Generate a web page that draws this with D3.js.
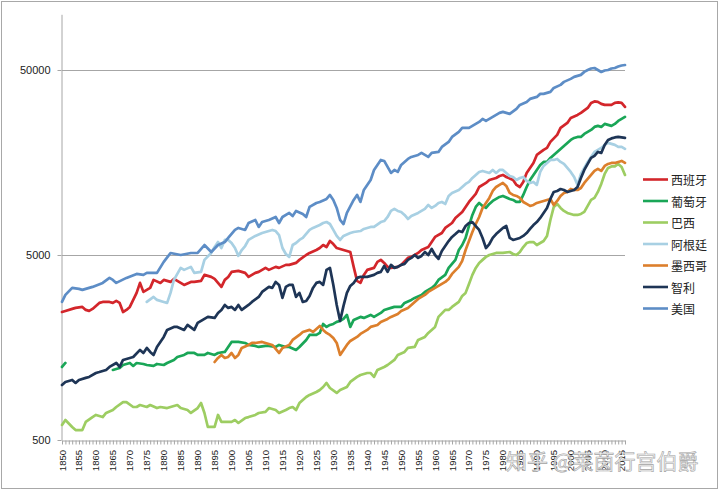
<!DOCTYPE html>
<html><head><meta charset="utf-8">
<script src="https://cdn.jsdelivr.net/npm/d3@7"></script>
<style>html,body{margin:0;padding:0;background:#fff;} svg{display:block;}</style>
</head><body><svg id="c" width="720" height="491"></svg>
<script>
// ---- data: [year, GDP per capita] ----
const spain = [[1850,2460],[1851,2493],[1853,2556],[1854,2588],[1856,2620],[1857,2524],[1858,2493],[1859,2556],[1861,2754],[1862,2788],[1864,2788],[1865,2754],[1866,2823],[1867,2754],[1868,2460],[1869,2524],[1870,2620],[1872,3120],[1873,3533],[1874,3159],[1876,3320],[1877,3668],[1879,3533],[1880,3668],[1882,3577],[1883,3714],[1885,3533],[1886,3446],[1888,3577],[1889,3577],[1891,3622],[1892,3903],[1894,3807],[1895,3714],[1897,3361],[1898,3668],[1899,3807],[1900,4051],[1902,4102],[1904,4001],[1905,3807],[1907,4001],[1908,4051],[1910,4259],[1911,4154],[1913,4312],[1914,4259],[1916,4421],[1917,4421],[1919,4532],[1920,4705],[1922,5000],[1923,5130],[1925,5320],[1926,5454],[1927,5660],[1928,5522],[1929,5950],[1930,5730],[1931,5454],[1932,5390],[1934,5260],[1935,5190],[1936,4312],[1937,3622],[1938,3533],[1939,3903],[1940,4154],[1942,4259],[1943,4590],[1944,4705],[1945,4532],[1946,4312],[1947,4259],[1949,4312],[1950,4421],[1952,4824],[1953,4884],[1955,5130],[1956,5320],[1958,5522],[1959,5875],[1960,6259],[1962,6572],[1963,7002],[1965,7443],[1966,7925],[1968,8543],[1969,9093],[1970,9674],[1971,10170],[1972,10692],[1973,11657],[1975,12261],[1976,12720],[1978,13040],[1979,13370],[1980,13540],[1981,13204],[1983,12720],[1984,11960],[1985,11657],[1986,12415],[1987,13881],[1989,15726],[1990,17370],[1992,18490],[1993,18956],[1994,20428],[1996,22290],[1997,24320],[1999,25876],[2000,27537],[2002,28590],[2003,29310],[2005,31197],[2006,33196],[2007,33820],[2008,33610],[2009,32785],[2010,32380],[2012,32380],[2013,33196],[2014,33400],[2015,33196],[2016,31586]];
const portugal = [[1850,1241],[1851,1304],[1852,null],[1865,1196],[1867,1226],[1868,1272],[1870,1304],[1871,1257],[1872,1304],[1874,1288],[1875,1272],[1877,1257],[1878,1288],[1880,1272],[1881,1304],[1883,1354],[1884,1405],[1886,1441],[1887,1477],[1889,1477],[1890,1441],[1892,1441],[1893,1477],[1895,1441],[1896,1477],[1898,1496],[1899,1592],[1900,1694],[1902,1694],[1904,1673],[1905,1632],[1907,1612],[1908,1592],[1910,1612],[1911,1612],[1913,1592],[1914,1632],[1916,1592],[1917,1592],[1919,1534],[1920,1592],[1922,1737],[1923,1849],[1925,1849],[1926,1896],[1927,2120],[1928,2043],[1929,2094],[1930,2120],[1931,2174],[1932,2201],[1933,2257],[1934,2372],[1935,2043],[1936,2229],[1938,2314],[1939,2285],[1941,2372],[1942,2314],[1944,2432],[1945,2524],[1947,2588],[1948,2620],[1950,2620],[1951,2754],[1953,2859],[1954,2931],[1956,3043],[1957,3159],[1959,3320],[1960,3446],[1961,3668],[1963,3903],[1964,4259],[1966,4705],[1967,5320],[1968,5660],[1969,6182],[1970,7179],[1971,8230],[1972,9093],[1973,9555],[1974,9208],[1975,8981],[1976,9437],[1977,9796],[1979,10297],[1980,10427],[1982,10044],[1983,9920],[1984,9674],[1985,9674],[1986,10560],[1987,11657],[1988,12720],[1989,13540],[1990,14410],[1991,15340],[1992,15923],[1993,15923],[1994,16731],[1995,17370],[1996,18030],[1997,18721],[1998,19435],[1999,20176],[2000,20940],[2001,21467],[2002,21736],[2003,21736],[2004,22569],[2005,23137],[2006,23720],[2007,24621],[2008,24932],[2009,24621],[2010,25556],[2011,25240],[2012,24932],[2013,25556],[2014,26530],[2015,27196],[2016,27881]];
const brazil = [[1850,603],[1851,641],[1853,588],[1854,566],[1856,566],[1857,626],[1859,665],[1860,683],[1862,665],[1863,700],[1865,726],[1866,754],[1868,802],[1869,802],[1871,754],[1872,754],[1873,773],[1875,754],[1876,773],[1878,744],[1879,754],[1881,744],[1882,754],[1884,773],[1885,744],[1887,726],[1888,700],[1890,744],[1891,792],[1892,700],[1893,588],[1895,588],[1896,683],[1897,626],[1898,626],[1900,626],[1901,641],[1902,618],[1904,657],[1905,665],[1907,683],[1908,700],[1910,709],[1911,744],[1913,726],[1914,700],[1916,726],[1917,744],[1918,754],[1919,726],[1920,792],[1922,854],[1923,876],[1925,909],[1926,932],[1927,967],[1928,1017],[1929,955],[1931,898],[1932,932],[1934,967],[1935,1030],[1937,1096],[1938,1123],[1940,1151],[1941,1151],[1942,1096],[1943,1196],[1945,1241],[1946,1272],[1948,1354],[1949,1441],[1951,1496],[1952,1573],[1954,1592],[1955,1737],[1957,1803],[1958,1896],[1960,2043],[1961,2314],[1963,2524],[1964,2524],[1965,2620],[1967,2788],[1968,3005],[1969,3120],[1970,3489],[1971,3903],[1972,4259],[1973,4532],[1974,4705],[1975,4884],[1976,5000],[1977,5063],[1978,5130],[1980,5130],[1982,5190],[1983,5063],[1984,5000],[1985,5190],[1986,5522],[1987,5803],[1988,5875],[1989,5875],[1990,5660],[1991,5803],[1992,5949],[1993,6338],[1994,7730],[1995,9093],[1996,9437],[1997,8981],[1998,8652],[1999,8437],[2000,8333],[2001,8230],[2002,8230],[2003,8333],[2004,8543],[2005,9208],[2006,9920],[2007,10170],[2008,10961],[2009,12110],[2010,13709],[2011,14773],[2012,15051],[2013,15051],[2014,15532],[2015,14958],[2016,13540]];
const argentina = [[1875,2788],[1877,2968],[1878,2859],[1880,2788],[1881,2754],[1882,3120],[1883,3668],[1885,4259],[1886,4154],[1888,4312],[1889,4001],[1891,4051],[1892,4705],[1894,5130],[1895,5522],[1896,5875],[1897,5454],[1898,6030],[1899,6030],[1900,5803],[1901,5454],[1902,4945],[1903,5320],[1904,5592],[1905,6030],[1907,6338],[1909,6572],[1910,6654],[1912,6830],[1913,6738],[1914,6410],[1915,5454],[1916,5063],[1917,4884],[1918,5660],[1919,5803],[1920,6030],[1921,6182],[1923,6830],[1924,7002],[1926,7260],[1927,7443],[1928,7536],[1929,7351],[1930,6830],[1931,6338],[1932,6030],[1933,6338],[1935,6572],[1936,6654],[1938,6738],[1939,6915],[1941,7090],[1942,7090],[1944,7536],[1945,7630],[1946,8024],[1947,8652],[1948,8870],[1949,8652],[1950,8543],[1951,8230],[1952,7827],[1953,8125],[1955,8437],[1956,8652],[1957,8870],[1958,9320],[1959,8981],[1960,9208],[1961,9555],[1962,9674],[1963,9437],[1964,10427],[1965,10826],[1967,11230],[1968,11657],[1969,12110],[1970,12415],[1971,13040],[1972,13540],[1973,14055],[1974,14230],[1975,14055],[1976,13881],[1977,14410],[1978,13881],[1979,14410],[1980,14410],[1981,13881],[1982,13370],[1983,13204],[1984,12720],[1985,13040],[1986,13204],[1987,12560],[1988,12261],[1989,12415],[1990,11960],[1991,14055],[1992,15148],[1993,15726],[1994,16320],[1995,16320],[1996,16524],[1997,15923],[1998,15532],[1999,14773],[2000,14055],[2001,13204],[2002,11960],[2003,13709],[2004,14773],[2005,15923],[2006,16940],[2007,18030],[2008,18490],[2009,18956],[2010,19680],[2011,20176],[2012,19926],[2013,19680],[2014,19193],[2015,19193],[2016,18721]];
const mexico = [[1895,1320],[1896,1388],[1897,1441],[1898,1388],[1899,1405],[1900,1477],[1901,1388],[1902,1441],[1903,1573],[1905,1632],[1906,1673],[1907,1673],[1909,1694],[1910,1673],[1912,1632],[1913,1553],[1914,1477],[1915,1573],[1917,1632],[1918,1737],[1920,1849],[1921,1919],[1923,1968],[1924,1919],[1926,2069],[1927,1968],[1928,1896],[1929,1849],[1930,1781],[1931,1673],[1932,1441],[1933,1534],[1934,1632],[1935,1715],[1937,1803],[1938,1872],[1940,1968],[1941,2043],[1943,2094],[1944,2174],[1946,2257],[1947,2314],[1949,2402],[1950,2493],[1952,2588],[1953,2686],[1954,2788],[1955,2895],[1957,3043],[1958,3159],[1960,3320],[1961,3404],[1963,3577],[1964,3714],[1965,3952],[1967,4312],[1968,4647],[1969,5320],[1970,5949],[1971,6654],[1972,7351],[1973,8024],[1974,8981],[1975,9555],[1976,10170],[1977,11091],[1978,11657],[1979,11960],[1980,12261],[1981,11811],[1982,10826],[1983,10560],[1984,10427],[1985,10170],[1986,9674],[1987,9437],[1988,9208],[1989,9320],[1990,9555],[1991,9674],[1992,9796],[1993,9920],[1994,10044],[1995,9320],[1996,9796],[1997,10427],[1998,10826],[1999,10961],[2000,11371],[2001,11230],[2002,11230],[2003,11511],[2004,12261],[2005,12879],[2006,13540],[2007,14230],[2008,14590],[2009,14230],[2010,15148],[2011,15532],[2012,15726],[2013,15726],[2014,15923],[2015,16123],[2016,15726]];
const chile = [[1850,992],[1851,1030],[1853,1056],[1854,1017],[1855,1056],[1857,1083],[1858,1096],[1860,1151],[1861,1165],[1863,1196],[1864,1241],[1866,1304],[1867,1241],[1868,1354],[1870,1388],[1871,1405],[1873,1534],[1874,1477],[1875,1573],[1876,1496],[1877,1441],[1878,1592],[1880,1803],[1881,1968],[1883,2043],[1884,2043],[1886,1968],[1887,2094],[1889,1968],[1890,2147],[1892,2257],[1893,2314],[1895,2285],[1896,2432],[1897,2524],[1898,2686],[1899,2588],[1900,2620],[1901,2524],[1902,2686],[1903,2524],[1905,2686],[1906,2788],[1908,2968],[1909,3159],[1911,3361],[1912,3320],[1913,3577],[1914,3446],[1915,2931],[1916,3361],[1917,3446],[1918,3446],[1919,2968],[1920,3120],[1921,2788],[1922,2823],[1923,3005],[1924,3320],[1925,3533],[1926,3577],[1927,3446],[1928,4154],[1929,4259],[1930,3446],[1931,2686],[1932,2201],[1933,2653],[1934,3120],[1935,3404],[1936,3533],[1937,3760],[1938,3807],[1940,3807],[1942,3903],[1943,4001],[1944,4051],[1945,4367],[1946,4051],[1947,4421],[1948,4259],[1949,4312],[1950,4421],[1951,4476],[1952,4705],[1953,4824],[1954,5000],[1955,4824],[1956,4938],[1957,5190],[1958,5000],[1959,5387],[1960,5000],[1961,4764],[1962,5254],[1963,5590],[1964,5949],[1965,6259],[1966,6490],[1967,6745],[1968,6654],[1969,7170],[1970,7443],[1971,7536],[1972,7170],[1973,6830],[1974,6182],[1975,5454],[1976,5731],[1977,6182],[1978,6490],[1979,6745],[1980,7002],[1981,7170],[1982,6182],[1983,6030],[1984,6105],[1985,6182],[1986,6338],[1987,6572],[1988,6915],[1989,7260],[1990,7536],[1991,7925],[1992,8437],[1993,8981],[1994,10044],[1995,10961],[1996,11091],[1997,11371],[1998,11230],[1999,10961],[2000,11091],[2001,11230],[2002,11657],[2003,13040],[2004,14410],[2005,15532],[2006,16731],[2007,17155],[2008,18030],[2009,17808],[2010,19680],[2011,20940],[2012,21340],[2013,21600],[2014,21736],[2015,21600],[2016,21467]];
const usa = [[1850,2790],[1851,3043],[1853,3320],[1855,3280],[1856,3238],[1858,3320],[1859,3361],[1862,3533],[1864,3760],[1865,3668],[1866,3533],[1869,3760],[1872,3952],[1874,3903],[1875,4001],[1878,4001],[1880,4589],[1882,5126],[1885,5000],[1888,5126],[1890,5126],[1892,5660],[1894,5190],[1896,5660],[1898,5875],[1899,6182],[1901,6830],[1902,7002],[1904,6830],[1905,7443],[1907,7730],[1908,7090],[1909,7536],[1911,7730],[1913,8024],[1914,7443],[1915,8024],[1917,8437],[1918,8125],[1919,8651],[1921,8333],[1922,8024],[1923,9093],[1925,9555],[1926,9674],[1928,10044],[1929,10560],[1930,9920],[1931,8981],[1932,7730],[1933,7351],[1934,8437],[1936,9920],[1937,10560],[1938,9674],[1939,11230],[1941,12720],[1942,14410],[1944,16320],[1945,16123],[1946,14958],[1947,13881],[1948,14410],[1949,14055],[1950,15340],[1951,15923],[1952,16524],[1953,16940],[1955,17370],[1956,17808],[1957,17370],[1958,16940],[1959,17808],[1961,18030],[1962,19193],[1964,20428],[1965,21736],[1967,23137],[1968,24318],[1970,24318],[1971,24932],[1973,26200],[1974,27196],[1975,26530],[1977,27880],[1979,29310],[1980,29680],[1982,28950],[1984,30810],[1985,32380],[1987,33610],[1988,34890],[1990,35770],[1991,37140],[1992,37140],[1994,38070],[1995,40010],[1997,41540],[1998,43120],[2000,44760],[2001,45890],[2003,47050],[2004,48840],[2005,50000],[2006,50940],[2007,51260],[2008,50000],[2009,48790],[2010,49690],[2011,50000],[2012,50940],[2013,51260],[2014,52200],[2015,52880],[2016,53200]];

const seriesNames = ["西班牙","葡萄牙","巴西","阿根廷","墨西哥","智利","美国"];
const seriesData = [spain, portugal, brazil, argentina, mexico, chile, usa];
const yTickValues = [500, 5000, 50000];
const xLabelYears = [1850,1855,1860,1865,1870,1875,1880,1885,1890,1895,1900,1905,1910,1915,1920,1925,1930,1935,1940,1945,1950,1955,1960,1965,1970,1975,1980,1985,1990,1995,2000,2005,2010,2015];
const firstYear = 1850, lastYear = 2016;

// ---- styles ----
const colors = ["#d3262b","#1aa657","#9dcd62","#a8d0e3","#dc7f2c","#1e3556","#5d8dc6"];
const gridColor = "#a6a6a6";

const svg = d3.select("#c");
svg.append("rect").attr("x",0).attr("y",0).attr("width",720).attr("height",491).attr("fill","#fff");
svg.append("rect").attr("x",1.5).attr("y",1.5).attr("width",716).attr("height",487)
  .attr("fill","none").attr("stroke","#a8a8a8");

const x = d3.scaleLinear().domain([firstYear, lastYear]).range([62, 625]);
const y = d3.scaleLog().domain([500, 100000]).range([440, 14.3]);

// gridlines
svg.append("g").selectAll("line").data(yTickValues.filter(v => v > 500)).join("line")
  .attr("x1", 62).attr("x2", 625)
  .attr("y1", d => Math.round(y(d)) + 0.5).attr("y2", d => Math.round(y(d)) + 0.5)
  .attr("stroke", gridColor).attr("stroke-width", 1);

// y axis
const yAxis = svg.append("g").attr("transform","translate(61.5,0)")
  .call(d3.axisLeft(y).tickValues(yTickValues).tickFormat(d3.format("d")).tickSize(4).tickPadding(7).tickSizeOuter(0));
yAxis.select(".domain").attr("stroke", gridColor);
yAxis.selectAll(".tick line").attr("stroke", gridColor);
yAxis.selectAll(".tick text").attr("font-family","Liberation Sans, Arial, sans-serif").attr("font-size","11px").attr("fill","#222");

// x axis with a tick per year
const allYears = d3.range(firstYear, lastYear + 1);
const xAxis = svg.append("g").attr("transform","translate(0,440.5)")
  .call(d3.axisBottom(x).tickValues(allYears).tickFormat("").tickSize(4).tickSizeOuter(0));
xAxis.select(".domain").attr("stroke", gridColor);
xAxis.selectAll(".tick line").attr("stroke", gridColor);

svg.append("g").selectAll("text").data(xLabelYears).join("text")
  .attr("transform", d => `translate(${x(d)},450) rotate(-90)`)
  .attr("text-anchor","end").attr("dominant-baseline","central")
  .attr("font-family","Liberation Sans, Arial, sans-serif").attr("font-size","9.5px").attr("fill","#222")
  .text(d => d);

// lines
const line = d3.line().defined(d => d[1] != null).x(d => x(d[0])).y(d => y(d[1]));
svg.append("g").selectAll("path").data(seriesData).join("path")
  .attr("d", line).attr("fill","none")
  .attr("stroke", (d,i) => colors[i]).attr("stroke-width", 2.7)
  .attr("stroke-linejoin","round").attr("stroke-linecap","round");

// legend
const lg = svg.append("g").selectAll("g").data(seriesNames).join("g")
  .attr("transform", (d,i) => `translate(643,${179.5 + i*21.5})`);
lg.append("line").attr("x1",0).attr("x2",25).attr("y1",0).attr("y2",0)
  .attr("stroke",(d,i)=>colors[i]).attr("stroke-width",2.6);
lg.append("text").attr("x",28).attr("y",0).attr("dominant-baseline","central")
  .attr("font-family","Noto Sans CJK SC, sans-serif").attr("font-size","12px").attr("fill","#222")
  .text(d => d);

// watermark
svg.append("text").attr("x",506).attr("y",469)
  .attr("font-family","Noto Sans CJK SC, sans-serif").attr("font-size","21px")
  .attr("fill","#f2f2f2").attr("fill-opacity",0.9).attr("stroke","#a3a3a3").attr("stroke-width",0.6)
  .text("知乎 @莱茵行宫伯爵");
</script></body></html>
